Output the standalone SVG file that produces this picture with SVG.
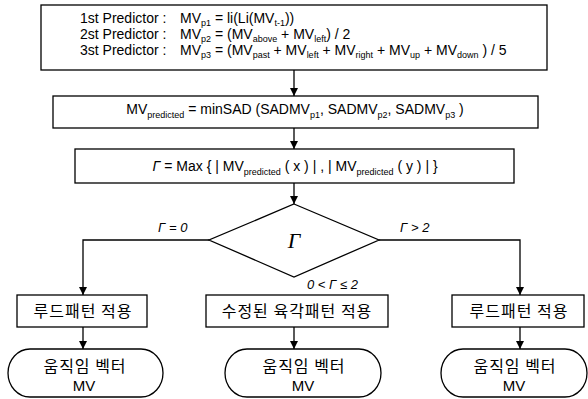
<svg xmlns="http://www.w3.org/2000/svg" width="588" height="399" viewBox="0 0 588 399">
<defs>
<style>
.box{fill:#fff;stroke:#000;stroke-width:1.3}
.ln{fill:none;stroke:#000;stroke-width:1.3}
.t{font-family:"Liberation Sans",Arial,sans-serif;font-size:14px;fill:#000}
.s{font-size:9px}
.k{font-family:"Noto Sans CJK KR",sans-serif;font-size:16px;letter-spacing:1px;fill:#000}
.i{font-family:"Liberation Sans",Arial,sans-serif;font-style:italic;font-size:13px;fill:#000}
.g{font-family:"Liberation Serif","Times New Roman",serif;font-style:italic;font-size:22px;fill:#000}
</style>
<marker id="ah" markerUnits="userSpaceOnUse" markerWidth="9" markerHeight="8" refX="8" refY="4" orient="auto">
<path d="M0,0 L8,4 L0,8 z" fill="#000"/>
</marker>
</defs>
<rect width="588" height="399" fill="#fff"/>

<g id="predictors">
<rect class="box" x="41" y="5" width="506" height="65"/>
<text class="t" x="80" y="23">1st Predictor :</text>
<text class="t" x="80" y="39">2st Predictor :</text>
<text class="t" x="80" y="55">3st Predictor :</text>
<text class="t" x="180" y="23">MV<tspan class="s" dy="3">p1</tspan><tspan dy="-3"> = li(Li(MV</tspan><tspan class="s" dy="3">t-1</tspan><tspan dy="-3">))</tspan></text>
<text class="t" x="180" y="39">MV<tspan class="s" dy="3">p2</tspan><tspan dy="-3"> = (MV</tspan><tspan class="s" dy="3">above</tspan><tspan dy="-3"> + MV</tspan><tspan class="s" dy="3">left</tspan><tspan dy="-3">) / 2</tspan></text>
<text class="t" x="180" y="55">MV<tspan class="s" dy="3">p3</tspan><tspan dy="-3"> = (MV</tspan><tspan class="s" dy="3">past</tspan><tspan dy="-3"> + MV</tspan><tspan class="s" dy="3">left</tspan><tspan dy="-3"> + MV</tspan><tspan class="s" dy="3">right</tspan><tspan dy="-3"> + MV</tspan><tspan class="s" dy="3">up</tspan><tspan dy="-3"> + MV</tspan><tspan class="s" dy="3">down</tspan><tspan dy="-3"> ) / 5</tspan></text>
</g>

<g id="minsad">
<rect class="box" x="53" y="96" width="485" height="32"/>
<text class="t" x="295" y="114" text-anchor="middle">MV<tspan class="s" dy="4">predicted</tspan><tspan dy="-4"> = minSAD (SADMV</tspan><tspan class="s" dy="4">p1</tspan><tspan dy="-4">, SADMV</tspan><tspan class="s" dy="4">p2</tspan><tspan dy="-4">, SADMV</tspan><tspan class="s" dy="4">p3</tspan><tspan dy="-4"> )</tspan></text>
</g>

<g id="gamma">
<rect class="box" x="75" y="149" width="439" height="34"/>
<text class="t" x="295" y="171" text-anchor="middle"><tspan font-style="italic">Γ</tspan> = Max { | MV<tspan class="s" dy="4">predicted</tspan><tspan dy="-4"> ( x ) | , | MV</tspan><tspan class="s" dy="4">predicted</tspan><tspan dy="-4"> ( y ) | }</tspan></text>
</g>

<g id="decision">
<polygon class="box" points="294,204 379,240 294,277 209,240"/>
<text class="g" x="294" y="248" text-anchor="middle">Γ</text>
</g>

<g id="box-left">
<rect class="box" x="17" y="295" width="130" height="32"/>
<text class="k" x="83" y="317" text-anchor="middle">루드패턴 적용</text>
</g>
<g id="box-mid">
<rect class="box" x="206" y="295" width="182" height="32"/>
<text class="k" x="297" y="317" text-anchor="middle">수정된 육각패턴 적용</text>
</g>
<g id="box-right">
<rect class="box" x="452" y="295" width="132" height="32"/>
<text class="k" x="519" y="317" text-anchor="middle">루드패턴 적용</text>
</g>

<g id="term-left">
<path class="box" d="M30,349 H141 A22,24 0 0 1 141,397 H30 A22,24 0 0 1 30,349 Z"/>
<text class="k" x="85" y="372" text-anchor="middle">움직임 벡터</text>
<text class="t" x="84" y="391" text-anchor="middle" style="font-size:15px">MV</text>
</g>
<g id="term-mid">
<path class="box" d="M247,349 H359 A22,24 0 0 1 359,397 H247 A22,24 0 0 1 247,349 Z"/>
<text class="k" x="304" y="372" text-anchor="middle">움직임 벡터</text>
<text class="t" x="303" y="391" text-anchor="middle" style="font-size:15px">MV</text>
</g>
<g id="term-right">
<path class="box" d="M463,349 H565 A22,24 0 0 1 565,397 H463 A22,24 0 0 1 463,349 Z"/>
<text class="k" x="515" y="372" text-anchor="middle">움직임 벡터</text>
<text class="t" x="514" y="391" text-anchor="middle" style="font-size:15px">MV</text>
</g>

<g id="connectors">
<line class="ln" x1="294" y1="70" x2="294" y2="96" marker-end="url(#ah)"/>
<line class="ln" x1="294" y1="128" x2="294" y2="149" marker-end="url(#ah)"/>
<line class="ln" x1="294" y1="183" x2="294" y2="204" marker-end="url(#ah)"/>
<polyline class="ln" points="209,240 83,240 83,295" marker-end="url(#ah)"/>
<polyline class="ln" points="379,240 520,240 520,295" marker-end="url(#ah)"/>
<line class="ln" x1="83" y1="327" x2="83" y2="349" marker-end="url(#ah)"/>
<line class="ln" x1="294" y1="327" x2="294" y2="349" marker-end="url(#ah)"/>
<line class="ln" x1="520" y1="327" x2="520" y2="349" marker-end="url(#ah)"/>
<text class="i" x="158" y="232">Γ = 0</text>
<text class="i" x="400" y="232">Γ &gt; 2</text>
<text class="i" x="307" y="289">0 &lt; Γ ≤  2</text>
</g>
</svg>
